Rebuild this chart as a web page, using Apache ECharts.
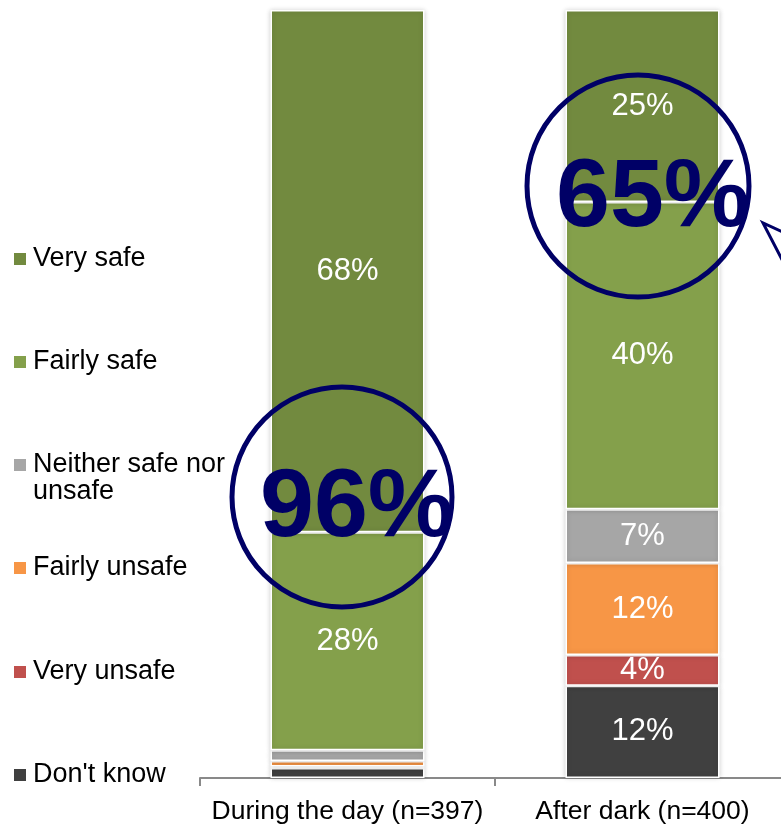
<!DOCTYPE html>
<html>
<head>
<meta charset="utf-8">
<script src="https://cdn.jsdelivr.net/npm/echarts@6/dist/echarts.min.js"></script>
<style>
html,body{margin:0;padding:0;background:#fff;overflow:hidden;}
#chart{width:790px;height:826px;}
</style>
</head>
<body>
<div id="chart"></div>
<script>
// ---- data ----
var categories = ['During the day (n=397)', 'After dark (n=400)'];
var seriesNames = ['Very safe', 'Fairly safe', 'Neither safe nor unsafe', 'Fairly unsafe', 'Very unsafe', "Don't know"];
var dontKnow     = [1.3, 12];
var veryUnsafe   = [0.2, 4];
var fairlyUnsafe = [0.7, 12];
var neither      = [1.4, 7];
var fairlySafe   = [28.4, 40];
var verySafe     = [68.0, 25];
var callouts     = ['96%', '65%'];

var colors = {
  'Very safe': '#728a3f',
  'Fairly safe': '#84a04b',
  'Neither safe nor unsafe': '#a6a6a6',
  'Fairly unsafe': '#f79646',
  'Very unsafe': '#c0504d',
  "Don't know": '#404040'
};

var FONT = 'Liberation Sans, Arial, sans-serif';
var NAVY = '#000066';

function mk(name, data) {
  return {
    name: name,
    type: 'bar',
    stack: 'total',
    barWidth: 154,
    data: data,
    itemStyle: {
      color: colors[name],
      borderColor: '#ffffff',
      borderWidth: 1.5,
      shadowColor: 'rgba(0,0,0,0.18)',
      shadowBlur: 5
    },
    label: {
      show: true,
      position: 'inside',
      color: '#ffffff',
      fontSize: 31,
      fontFamily: FONT,
      formatter: function (p) { return p.value >= 3 ? Math.round(p.value) + '%' : ''; }
    },
    emphasis: { disabled: true }
  };
}

// stacking order bottom -> top
var series = [
  mk("Don't know", dontKnow),
  mk('Very unsafe', veryUnsafe),
  mk('Fairly unsafe', fairlyUnsafe),
  mk('Neither safe nor unsafe', neither),
  mk('Fairly safe', fairlySafe),
  mk('Very safe', verySafe)
];

var legendCenters = [259, 362, 465, 568, 672, 775];
var legends = seriesNames.map(function (n, i) {
  var isTwo = n === 'Neither safe nor unsafe';
  var lh = isTwo ? 27 : 30;
  var boxH = isTwo ? 3 * lh : lh;
  return {
    data: [n],
    orient: 'vertical',
    left: 14,
    top: legendCenters[i] - boxH / 2,
    padding: 0,
    itemWidth: 12,
    itemHeight: 12,
    icon: 'rect',
    selectedMode: false,
    itemStyle: { borderWidth: 0, shadowBlur: 0 },
    formatter: function (name) { return isTwo ? ' \nNeither safe nor\nunsafe' : name; },
    textStyle: {
      color: '#000',
      fontSize: 27,
      fontFamily: FONT,
      lineHeight: lh,
      padding: [0, 0, 0, 2]
    }
  };
});

var chart = echarts.init(document.getElementById('chart'), null, { renderer: 'canvas' });
chart.setOption({
  animation: false,
  backgroundColor: '#ffffff',
  legend: legends,
  grid: { left: 200, top: 10, width: 590, height: 768, containLabel: false },
  xAxis: {
    type: 'category',
    data: categories,
    axisLine: { show: true, lineStyle: { color: '#898989', width: 2 } },
    axisTick: { show: true, length: 8, lineStyle: { color: '#898989', width: 2 } },
    axisLabel: { color: '#000', fontSize: 26.5, fontFamily: FONT, margin: 20, interval: 0 }
  },
  yAxis: { type: 'value', min: 0, max: 100, show: false, splitLine: { show: false } },
  series: series,
  graphic: [
    { type: 'circle', shape: { cx: 342, cy: 497, r: 110 }, style: { fill: 'none', stroke: NAVY, lineWidth: 5 }, z: 100 },
    { type: 'circle', shape: { cx: 638, cy: 186, r: 111 }, style: { fill: 'none', stroke: NAVY, lineWidth: 5 }, z: 100 },
    { type: 'text', x: 357, y: 509, style: { text: callouts[0], fill: NAVY, font: 'bold 97px ' + FONT, align: 'center', verticalAlign: 'middle' }, z: 101 },
    { type: 'text', x: 653, y: 199, style: { text: callouts[1], fill: NAVY, font: 'bold 97px ' + FONT, align: 'center', verticalAlign: 'middle' }, z: 101 },
    { type: 'polyline', shape: { points: [[800, 240], [763, 223], [790, 275]] }, style: { fill: 'none', stroke: NAVY, lineWidth: 3 }, z: 100 }
  ]
});
</script>
</body>
</html>
